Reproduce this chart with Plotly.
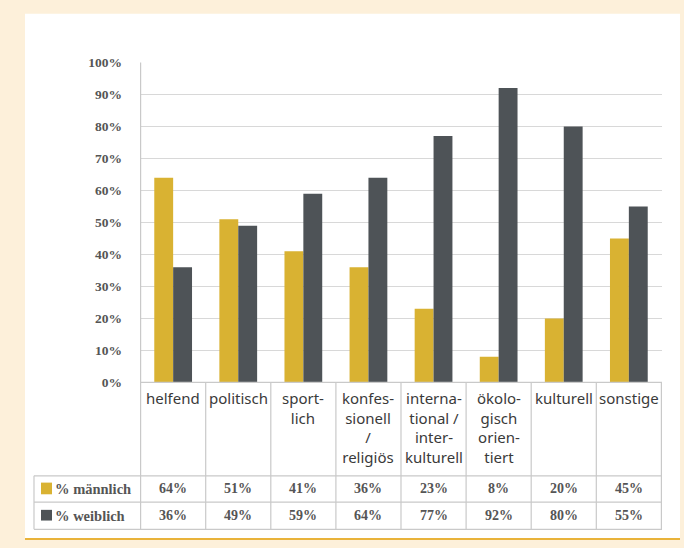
import plotly.graph_objects as go

# --- data -------------------------------------------------------------
categories = ["helfend", "politisch", "sportlich", "konfessionell / religiös",
              "international / interkulturell", "ökologisch orientiert",
              "kulturell", "sonstige"]
category_labels = ["helfend", "politisch", "sport-<br>lich",
                   "konfes-<br>sionell<br>/<br>religiös",
                   "interna-<br>tional /<br>inter-<br>kulturell",
                   "ökolo-<br>gisch<br>orien-<br>tiert",
                   "kulturell", "sonstige"]
male = [64, 51, 41, 36, 23, 8, 20, 45]
female = [36, 49, 59, 64, 77, 92, 80, 55]
series_names = ["% männlich", "% weiblich"]
y_ticks = list(range(0, 101, 10))

# --- styling ------------------------------------------------------------
W, H = 684, 548
CREAM = "#FDF0DA"
GOLD = "#D9B232"
DARK = "#4E5357"
LINE = "#C9C9C9"
GRID = "#D8D8D8"
TEXT = "#3A3A3A"
NUM = "#555555"
SERIF = "Liberation Serif"
SANS = "Noto Sans"


def px(x):
    return x / W


def py(y):
    return 1 - y / H


X0, X1 = 140, 662          # plot / table horizontal extent
Y_TOP, Y_ZERO = 57, 386    # 100 % and 0 % lines
ROW1, ROW2, ROW3 = 482, 509, 537
TABLE_LEFT = 34

fig = go.Figure()
fig.add_trace(go.Bar(x=categories, y=male, name=series_names[0],
                     marker=dict(color=GOLD, line=dict(width=0))))
fig.add_trace(go.Bar(x=categories, y=female, name=series_names[1],
                     marker=dict(color=DARK, line=dict(width=0))))

shapes = []
# white panel with gold bottom rule
shapes.append(dict(type="rect", xref="paper", yref="paper", x0=px(25), x1=px(680),
                   y0=py(546), y1=py(7), fillcolor="white", line=dict(width=0),
                   layer="below"))
shapes.append(dict(type="line", xref="paper", yref="paper", x0=px(25), x1=px(680),
                   y0=py(547), y1=py(547), line=dict(color="#E9B33A", width=2)))

# table grid
for i in range(len(categories) + 1):
    xv = i - 0.5
    top = Y_TOP if i == 0 else Y_ZERO
    shapes.append(dict(type="line", xref="x", yref="paper", x0=xv, x1=xv,
                       y0=py(top), y1=py(ROW3), line=dict(color=LINE, width=1.2)))
shapes.append(dict(type="line", xref="paper", yref="paper", x0=px(X0), x1=px(X1),
                   y0=py(Y_ZERO), y1=py(Y_ZERO), line=dict(color=LINE, width=1.2)))
for yv in (ROW1, ROW2, ROW3):
    shapes.append(dict(type="line", xref="paper", yref="paper", x0=px(TABLE_LEFT),
                       x1=px(X1), y0=py(yv), y1=py(yv), line=dict(color=LINE, width=1.2)))
shapes.append(dict(type="line", xref="paper", yref="paper", x0=px(TABLE_LEFT),
                   x1=px(TABLE_LEFT), y0=py(ROW1), y1=py(ROW3),
                   line=dict(color=LINE, width=1.2)))

# legend swatches inside the table
for (yt, yb), col in zip(((489, 501), (517, 528)), (GOLD, DARK)):
    shapes.append(dict(type="rect", xref="paper", yref="paper", x0=px(41), x1=px(52),
                       y0=py(yb), y1=py(yt), fillcolor=col, line=dict(width=0)))

annotations = []
for i, lab in enumerate(category_labels):
    annotations.append(dict(x=i, y=py(390), xref="x", yref="paper", text=lab,
                            showarrow=False, xanchor="center", yanchor="top",
                            align="center", font=dict(family=SANS, size=15, color=TEXT)))
for row_y, vals in (((ROW1 + ROW2) / 2, male), ((ROW2 + ROW3) / 2, female)):
    for i, v in enumerate(vals):
        annotations.append(dict(x=i, y=py(row_y), xref="x", yref="paper",
                                text=f"<b>{v}%</b>", showarrow=False, xanchor="center",
                                yanchor="middle",
                                font=dict(family=SERIF, size=14, color=NUM)))
for row_y, name in (((ROW1 + ROW2) / 2, series_names[0]),
                    ((ROW2 + ROW3) / 2, series_names[1])):
    annotations.append(dict(x=px(53), y=py(row_y), xref="paper", yref="paper",
                            text=f"<b>{name}</b>", showarrow=False, xanchor="left",
                            yanchor="middle",
                            font=dict(family=SERIF, size=14.5, color=NUM)))

fig.update_layout(
    width=W, height=H,
    margin=dict(l=0, r=0, t=0, b=0),
    paper_bgcolor=CREAM,
    plot_bgcolor="rgba(0,0,0,0)",
    barmode="group",
    bargap=0.42,
    bargroupgap=0.0,
    showlegend=False,
    shapes=shapes,
    annotations=annotations,
    xaxis=dict(domain=[px(X0), px(X1)], showticklabels=False, showgrid=False,
               zeroline=False, showline=False, ticks="", fixedrange=True),
    yaxis=dict(domain=[py(Y_ZERO), py(Y_TOP)], range=[0, 100],
               tickvals=y_ticks, ticktext=[f"<b>{t}%</b>" for t in y_ticks],
               showgrid=True, gridcolor=GRID, gridwidth=1.2,
               zeroline=False, showline=False, ticks="",
               ticklabelstandoff=17,
               tickfont=dict(family=SERIF, size=13.5, color=NUM)),
)

fig.write_html("out.html")
